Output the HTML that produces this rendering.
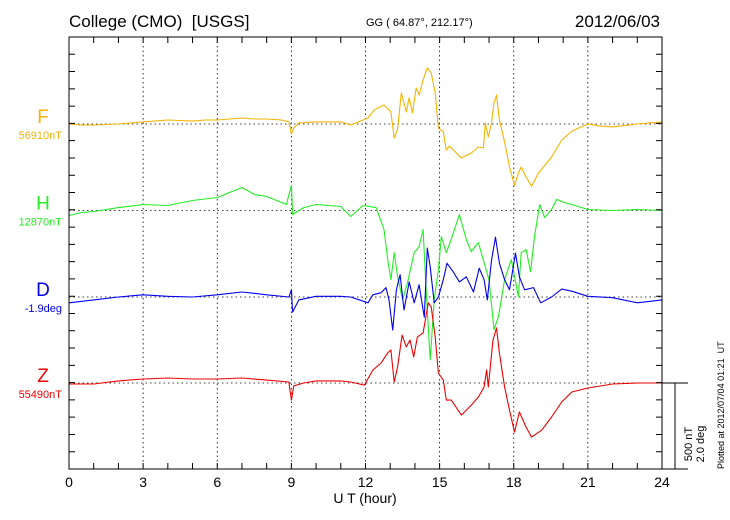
<!DOCTYPE html>
<html><head><meta charset="utf-8"><style>
html,body{margin:0;padding:0;background:#fff;}
svg{display:block;font-family:"Liberation Sans",sans-serif;}
</style></head><body>
<svg id="chart" width="730" height="520" viewBox="0 0 730 520" xmlns="http://www.w3.org/2000/svg">
<text x="69" y="27" font-size="17" style="white-space:pre">College (CMO)  [USGS]</text>
<text x="366" y="26" font-size="11">GG ( 64.87°, 212.17°)</text>
<text x="660" y="27" font-size="17" text-anchor="end">2012/06/03</text>
<text x="365" y="503" font-size="14" text-anchor="middle">U T (hour)</text>
<g id="grid"></g>
<g id="series"></g>
<g id="axes"></g>
<g stroke="#000" stroke-width="1" fill="none">
<line x1="662" y1="383" x2="688" y2="383"/><line x1="675" y1="383" x2="675" y2="469"/><line x1="662" y1="469" x2="688" y2="469"/>
</g>
<text transform="translate(692,444) rotate(-90)" font-size="11" text-anchor="middle">500 nT</text>
<text transform="translate(704,444) rotate(-90)" font-size="11" text-anchor="middle">2.0 deg</text>
<text transform="translate(724,469) rotate(-90)" font-size="9" style="white-space:pre">Plotted at 2012/07/04 01:21  UT</text>
</svg>
<script>
// ---- data ----
const xTicks = [0,3,6,9,12,15,18,21,24];
const seriesNames = ["F","H","D","Z"];
const seriesBase = ["56910nT","12870nT","-1.9deg","55490nT"];
const seriesColors = ["#f5b400","#22ee22","#0000ee","#ee0000"];
const fHours = [0,0.5,1,2,3,4,5,5.5,6,6.5,7,7.5,8,8.6,8.9,9.0,9.1,9.3,10,11,11.4,12.1,12.35,12.75,13.03,13.16,13.3,13.45,13.65,13.77,13.9,14.05,14.17,14.33,14.5,14.66,14.82,14.95,15.15,15.27,15.4,15.88,16.28,16.57,16.77,16.85,16.97,17.1,17.2,17.3,17.42,17.63,17.83,18.03,18.19,18.3,18.5,18.72,19,19.53,19.94,20.35,21,21.5,22,23,24];
const fValues = [0,-6,-6,0,12,23,17,23,23,29,35,29,29,23,12,-58,-23,6,12,12,-6,35,81,110,70,-81,-29,180,70,151,64,209,168,255,325,296,180,-23,-46,-151,-128,-197,-168,-133,-139,6,-75,6,122,168,23,-104,-249,-354,-284,-249,-307,-360,-284,-191,-93,-41,0,-12,-17,0,12];
const hHours = [0,0.5,1,2,3,4,5,6,7,7.5,8,8.8,9.0,9.05,9.5,10,11,11.4,11.9,12.43,12.75,12.9,13.03,13.16,13.3,13.5,13.7,13.97,14.17,14.33,14.46,14.62,14.78,14.95,15.07,15.27,15.47,15.8,16.08,16.28,16.57,16.8,17.0,17.2,17.38,17.63,17.9,18.19,18.3,18.5,18.68,18.84,19.05,19.25,19.53,19.74,20.06,20.35,21,22,23,24];
const hValues = [-29,-12,-6,17,35,29,58,75,133,93,81,35,145,-23,17,35,23,-35,29,17,-110,-284,-400,-244,-383,-516,-418,-244,-209,-110,-476,-864,-516,-342,-151,-244,-168,-23,-168,-238,-186,-302,-400,-690,-615,-400,-284,-499,-244,-226,-354,-151,35,-41,6,64,46,35,6,0,6,0];
const dHours = [0,1,2,3,4,5,6,7,8,8.9,9.0,9.05,9.3,10,11,11.4,12.1,12.3,12.63,12.83,12.95,13.1,13.25,13.4,13.56,13.77,13.97,14.17,14.38,14.5,14.62,14.78,14.95,15.15,15.3,15.55,15.8,16.08,16.37,16.6,16.8,16.93,17.1,17.26,17.42,17.63,17.83,18.07,18.23,18.44,18.8,19.09,19.53,19.94,20.35,21,22,23,24];
const dValues = [-8,-4,0,3,1,0,3,7,3,0,10,-21,-4,1,1,0,-8,3,6,13,-4,-46,10,31,-18,21,-8,17,-28,68,42,-8,0,24,47,35,21,28,7,40,24,-4,51,83,47,24,10,61,28,10,13,-8,0,11,8,1,-1,-8,-4]; // arcmin
const zHours = [0,1,2,3,4,5,6,7,8,8.9,9.0,9.1,9.5,10,11,11.4,11.95,12.3,12.63,12.9,13.03,13.16,13.3,13.48,13.65,13.8,13.95,14.1,14.33,14.54,14.66,14.82,14.95,15.15,15.27,15.47,15.88,16.28,16.57,16.8,16.9,16.97,17.16,17.3,17.42,17.63,17.83,18.03,18.23,18.5,18.72,19.13,19.53,19.94,20.35,21,22,23,24];
const zValues = [-6,-6,12,23,29,23,23,29,17,6,-99,-17,0,12,12,6,-12,75,116,174,191,6,93,278,209,249,151,267,290,464,441,267,58,17,-99,-99,-186,-128,-81,-23,75,-23,249,319,174,-23,-157,-284,-168,-255,-313,-273,-197,-110,-52,-29,-6,0,0];

// ---- layout ----
const X0=69, X1=662, Y0=37, Y1=469;
const baselines=[124,210.5,297,383];
const pxPerNT = 86.4/500, pxPerArcmin = 86.4/120;
const NS="http://www.w3.org/2000/svg";
function xs(h){return X0+(X1-X0)*h/24;}
function mk(tag,attrs,parent){const e=document.createElementNS(NS,tag);for(const k in attrs)e.setAttribute(k,attrs[k]);parent.appendChild(e);return e;}
const grid=document.getElementById('grid'), axes=document.getElementById('axes'), ser=document.getElementById('series'), svg=document.getElementById('chart');

xTicks.forEach(function(t){
  if(t>0&&t<24){const l=mk('line',{x1:xs(t),x2:xs(t),y1:Y0,y2:Y1,stroke:'#000','stroke-width':0.8,'stroke-dasharray':'1.5,3'},grid);
  
  }
  const tx=mk('text',{x:xs(t),y:487,'font-size':14,'text-anchor':'middle'},axes);
  tx.textContent=t;
  
  
});
baselines.forEach(function(b,i){
  const l=mk('line',{x1:X0,x2:X1,y1:b,y2:b,stroke:'#000','stroke-width':0.8,'stroke-dasharray':'1.5,3'},grid);
  
  
});
const seriesH=[fHours,hHours,dHours,zHours], seriesV=[fValues,hValues,dValues,zValues];
seriesNames.forEach(function(n,i){
  const sc = n==="D"?pxPerArcmin:pxPerNT;
  let d='';
  seriesH[i].forEach(function(h,j){d+=(j?'L':'M')+xs(h).toFixed(1)+','+(baselines[i]-seriesV[i][j]*sc).toFixed(1);});
  const p=mk('path',{d:d,fill:'none',stroke:seriesColors[i],'stroke-width':1.1,'stroke-linejoin':'round'},ser);
  
  
  const t=mk('text',{x:43,y:baselines[i]-1,'font-size':19,'text-anchor':'middle',fill:seriesColors[i]},svg);
  t.textContent=n;
  
  
  const t2=mk('text',{x:62,y:baselines[i]+15,'font-size':11,'text-anchor':'end',fill:seriesColors[i]},svg);
  t2.textContent=seriesBase[i];
  
  
});
// frame and ticks
const fr=mk('rect',{x:X0,y:Y0,width:X1-X0,height:Y1-Y0,fill:'none',stroke:'#000','stroke-width':1},axes);


let td='';
for(let h=1;h<24;h++){td+='M'+xs(h)+','+Y0+'v6M'+xs(h)+','+Y1+'v-6';}
for(let k=1;k<25;k++){const y=Y0+k*(Y1-Y0)/25;td+='M'+X0+','+y+'h6M'+X1+','+y+'h-6';}
const tk=mk('path',{d:td,stroke:'#000','stroke-width':1,fill:'none'},axes);


</script>
</body></html>
